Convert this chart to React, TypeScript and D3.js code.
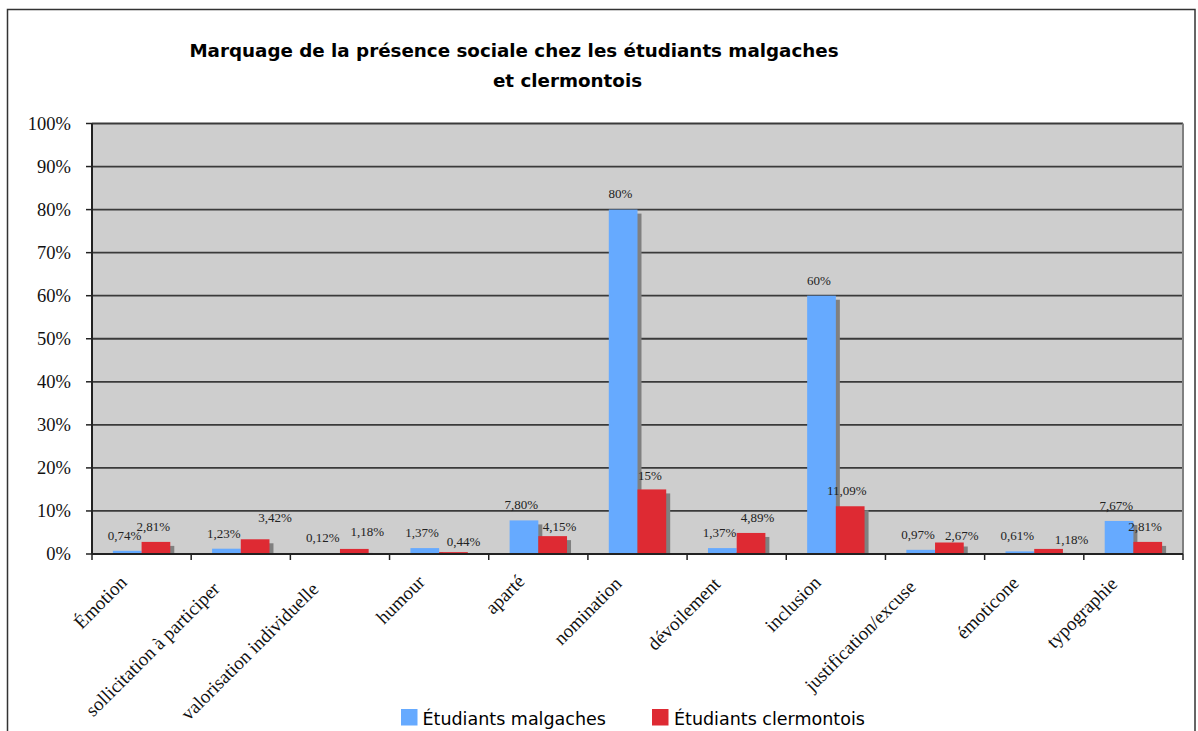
import React from "react";
import * as d3 from "d3";

const categories = [
  "Émotion",
  "sollicitation à participer",
  "valorisation individuelle",
  "humour",
  "aparté",
  "nomination",
  "dévoilement",
  "inclusion",
  "justification/excuse",
  "émoticone",
  "typographie",
];

const seriesNames = ["Étudiants malgaches", "Étudiants clermontois"];
const malgaches = [0.74, 1.23, 0.12, 1.37, 7.8, 80, 1.37, 60, 0.97, 0.61, 7.67];
const clermontois = [2.81, 3.42, 1.18, 0.44, 4.15, 15, 4.89, 11.09, 2.67, 1.18, 2.81];
const malgachesLabels = ["0,74%", "1,23%", "0,12%", "1,37%", "7,80%", "80%", "1,37%", "60%", "0,97%", "0,61%", "7,67%"];
const clermontoisLabels = ["2,81%", "3,42%", "1,18%", "0,44%", "4,15%", "15%", "4,89%", "11,09%", "2,67%", "1,18%", "2,81%"];
const yTicks = [0, 10, 20, 30, 40, 50, 60, 70, 80, 90, 100];

// manual nudges of the clermontois data labels, as moved in the original
const clermontLabelDx = [0, 22.7, 15.7, 12.7, 9.7, 0.7, 9.2, -0.8, 15.2, 25.7, 0];
const clermontLabelDy = [0, -5.9, -1.5, 5.3, 5.6, 1.3, 0, 0, 8.2, 6.1, 0];

const colors = ["#66AAFF", "#DE2A33"];
const SERIF = "'Liberation Serif', 'Times New Roman', serif";
const SANS = "'DejaVu Sans', Verdana, sans-serif";
const X_FONT = 19;

let measureCtx: CanvasRenderingContext2D | null = null;
function textWidth(s: string, font: string): number {
  if (!measureCtx) {
    const c = document.createElement("canvas");
    measureCtx = c.getContext("2d");
  }
  if (!measureCtx) return s.length * 0.45 * X_FONT;
  measureCtx.font = font;
  return measureCtx.measureText(s).width;
}

export default function App() {
  const W = 1198, H = 731;
  const left = 92, right = 1183, top = 123.5, bottom = 554;
  const x = d3.scaleBand<string>().domain(categories).range([left, right]).paddingInner(0).paddingOuter(0);
  const xs = d3.scaleBand<string>().domain(seriesNames).range([0, x.bandwidth()]).paddingInner(0).paddingOuter(0.728);
  const y = d3.scaleLinear().domain([0, 100]).range([bottom, top]);
  const bw = xs.bandwidth();
  const shadow = 4;
  const series = [malgaches, clermontois];
  const labels = [malgachesLabels, clermontoisLabels];

  const marks: React.ReactNode[] = [];
  categories.forEach((c, i) => {
    series.forEach((vals, s) => {
      const bx = (x(c) as number) + (xs(seriesNames[s]) as number);
      const by = y(vals[i]);
      const h = bottom - by;
      if (h > shadow) {
        marks.push(
          <rect key={`sh-${i}-${s}`} x={bx + shadow} y={by + shadow} width={bw} height={h - shadow} fill="#808080" />
        );
      }
      marks.push(<rect key={`b-${i}-${s}`} x={bx} y={by} width={bw} height={h} fill={colors[s]} />);
    });
  });

  const valueLabels: React.ReactNode[] = [];
  categories.forEach((c, i) => {
    series.forEach((vals, s) => {
      const bx = (x(c) as number) + (xs(seriesNames[s]) as number);
      const cx = bx + bw / 2 - 2.7 + (s === 1 ? clermontLabelDx[i] : 0);
      const cy = y(vals[i]) - 15.7 + (s === 1 ? clermontLabelDy[i] : 0);
      valueLabels.push(
        <text key={`vl-${i}-${s}`} x={cx} y={cy + 4.5} textAnchor="middle" fontFamily={SERIF} fontSize={13} fill="#222">
          {labels[s][i]}
        </text>
      );
    });
  });

  const xFont = `${X_FONT}px 'Liberation Serif', 'Times New Roman', serif`;

  return (
    <svg width={W} height={H} style={{ position: "absolute", left: 0, top: 0, background: "#fff" }}>
      <rect x={7.5} y={9.5} width={1187.5} height={740} fill="#fff" stroke="#333" strokeWidth={1.5} />
      <text x={514} y={56.5} textAnchor="middle" fontFamily={SANS} fontWeight="bold" fontSize={18.3} fill="#000">
        Marquage de la présence sociale chez les étudiants malgaches
      </text>
      <text x={567.5} y={86.5} textAnchor="middle" fontFamily={SANS} fontWeight="bold" fontSize={18.3} fill="#000">
        et clermontois
      </text>

      <rect x={left} y={top} width={right - left} height={bottom - top} fill="#CECECE" />
      {yTicks.filter((t) => t > 0).map((t) => (
        <line key={`g-${t}`} x1={left} x2={right} y1={y(t)} y2={y(t)} stroke="#3a3a3a" strokeWidth={1.8} />
      ))}
      <line x1={right} x2={right} y1={top} y2={bottom} stroke="#808080" strokeWidth={2} />

      {marks}

      <line x1={left} x2={left} y1={top} y2={bottom} stroke="#222" strokeWidth={2} />
      <line x1={left} x2={right} y1={bottom} y2={bottom} stroke="#222" strokeWidth={2} />
      {yTicks.map((t) => (
        <g key={`yt-${t}`}>
          <line x1={left - 6} x2={left} y1={y(t)} y2={y(t)} stroke="#222" strokeWidth={1.5} />
          <text x={71} y={y(t) + 6.3} textAnchor="end" fontFamily={SERIF} fontSize={18.5} fill="#111">
            {`${t}%`}
          </text>
        </g>
      ))}
      {d3.range(categories.length + 1).map((k) => {
        const tx = left + k * x.step();
        return <line key={`xt-${k}`} x1={tx} x2={tx} y1={bottom} y2={bottom + 6} stroke="#222" strokeWidth={1.5} />;
      })}
      {categories.map((c) => {
        const L = textWidth(c, xFont);
        const ax = (x(c) as number) + x.bandwidth() / 2 - 10 - 0.055 * L;
        const ay = 580 + 0.055 * L;
        return (
          <text
            key={`xl-${c}`}
            x={ax}
            y={ay}
            transform={`rotate(-45 ${ax} ${ay})`}
            textAnchor="end"
            fontFamily={SERIF}
            fontSize={X_FONT}
            fill="#111"
          >
            {c}
          </text>
        );
      })}

      {valueLabels}

      <rect x={401} y={709} width={16.5} height={16.5} fill={colors[0]} />
      <text x={422.5} y={725} fontFamily={SANS} fontSize={17.5} fill="#000">{seriesNames[0]}</text>
      <rect x={652} y={709} width={16.5} height={16.5} fill={colors[1]} />
      <text x={674} y={725} fontFamily={SANS} fontSize={17.5} fill="#000">{seriesNames[1]}</text>
    </svg>
  );
}
